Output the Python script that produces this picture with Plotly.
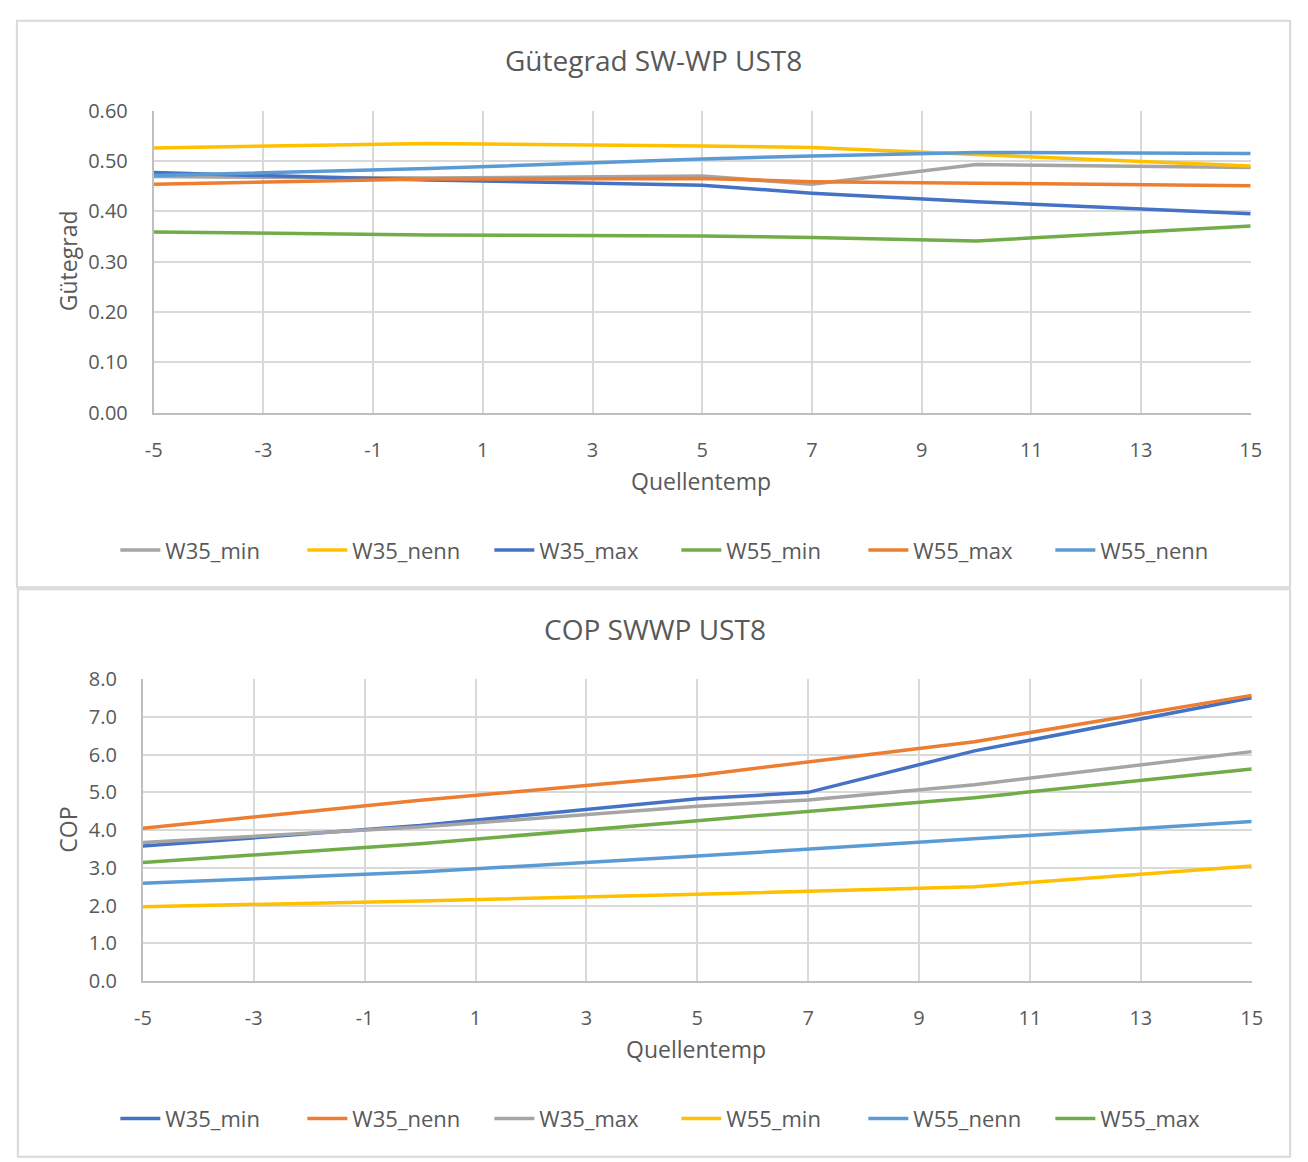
import plotly.graph_objects as go

W, H = 1308, 1162

# Source temperature (°C) at which the heat pump was measured
quellentemp = [-5, 0, 5, 7, 10, 15]

# Gütegrad (efficiency grade) per operating point
g_w35_min = [0.469, 0.466, 0.470, 0.454, 0.493, 0.487]
g_w35_nenn = [0.526, 0.535, 0.530, 0.527, 0.513, 0.490]
g_w35_max = [0.477, 0.462, 0.452, 0.436, 0.419, 0.395]
g_w55_min = [0.359, 0.353, 0.351, 0.348, 0.341, 0.371]
g_w55_max = [0.454, 0.464, 0.465, 0.459, 0.456, 0.451]
g_w55_nenn = [0.471, 0.485, 0.504, 0.510, 0.517, 0.515]

# COP per operating point
c_w35_min = [3.58, 4.12, 4.83, 5.00, 6.10, 7.51]
c_w35_nenn = [4.05, 4.79, 5.45, 5.80, 6.34, 7.57]
c_w35_max = [3.67, 4.08, 4.63, 4.80, 5.20, 6.08]
c_w55_min = [1.97, 2.12, 2.30, 2.38, 2.50, 3.05]
c_w55_nenn = [2.59, 2.89, 3.31, 3.49, 3.78, 4.23]
c_w55_max = [3.14, 3.64, 4.25, 4.50, 4.86, 5.62]

# x-axis ticks and their labels (plain hyphen for negatives)
x_ticks = [-5, -3, -1, 1, 3, 5, 7, 9, 11, 13, 15]
x_tick_labels = ["-5", "-3", "-1", "1", "3", "5", "7", "9", "11", "13", "15"]

BLUE = "#4472C4"
ORANGE = "#ED7D31"
GRAY = "#A5A5A5"
YELLOW = "#FFC000"
LBLUE = "#5B9BD5"
GREEN = "#70AD47"

TEXT = "#595959"
GRID = "#D9D9D9"
AXIS = "#BFBFBF"
FONT = "Open Sans"


def px(x):
    """pixel x -> paper fraction"""
    return x / W


def py(y):
    """pixel y (from top) -> paper fraction"""
    return 1 - y / H


top_series = [
    ("W35_min", g_w35_min, GRAY),
    ("W35_nenn", g_w35_nenn, YELLOW),
    ("W35_max", g_w35_max, BLUE),
    ("W55_min", g_w55_min, GREEN),
    ("W55_max", g_w55_max, ORANGE),
    ("W55_nenn", g_w55_nenn, LBLUE),
]
bottom_series = [
    ("W35_min", c_w35_min, BLUE),
    ("W35_nenn", c_w35_nenn, ORANGE),
    ("W35_max", c_w35_max, GRAY),
    ("W55_min", c_w55_min, YELLOW),
    ("W55_nenn", c_w55_nenn, LBLUE),
    ("W55_max", c_w55_max, GREEN),
]

fig = go.Figure()
for name, vals, col in top_series:
    fig.add_trace(go.Scatter(x=quellentemp, y=vals, name=name, mode="lines",
                             line=dict(color=col, width=3.5),
                             xaxis="x", yaxis="y", legend="legend"))
for name, vals, col in bottom_series:
    fig.add_trace(go.Scatter(x=quellentemp, y=vals, name=name, mode="lines",
                             line=dict(color=col, width=3.5),
                             xaxis="x2", yaxis="y2", legend="legend2"))

axis_common = dict(
    showgrid=True, gridcolor=GRID, gridwidth=1.5,
    showline=True, linecolor=AXIS, linewidth=2,
    zeroline=False, ticks="",
    tickfont=dict(family=FONT, size=20, color=TEXT),
)
legend_common = dict(
    orientation="h", x=px(108), xanchor="left", yanchor="middle",
    font=dict(family=FONT, size=22, color=TEXT),
    entrywidth=132, entrywidthmode="pixels", itemwidth=40,
    tracegroupgap=0, bgcolor="rgba(0,0,0,0)",
)

fig.update_layout(
    width=W, height=H,
    margin=dict(l=0, r=0, t=0, b=0),
    paper_bgcolor="white", plot_bgcolor="white",
    font=dict(family=FONT, color=TEXT),
    xaxis=dict(domain=[px(147), px(1261)], anchor="y", range=[-5, 15],
               tickmode="array", tickvals=x_ticks, ticktext=x_tick_labels,
               ticklabelstandoff=18, **axis_common),
    yaxis=dict(domain=[py(408), py(99)], anchor="x", range=[0, 0.6],
               tickmode="linear", tick0=0, dtick=0.1, tickformat=".2f",
               ticklabelstandoff=20, **axis_common),
    xaxis2=dict(domain=[px(136), px(1262)], anchor="y2", range=[-5, 15],
                tickmode="array", tickvals=x_ticks, ticktext=x_tick_labels,
                ticklabelstandoff=18, **axis_common),
    yaxis2=dict(domain=[py(990), py(681)], anchor="x2", range=[0, 8],
                tickmode="linear", tick0=0, dtick=1, tickformat=".1f",
                ticklabelstandoff=20, **axis_common),
    legend=dict(y=py(549), **legend_common),
    legend2=dict(y=py(1131), **legend_common),
    showlegend=True,
)

annotations = [
    dict(text="Gütegrad SW-WP UST8", x=px(655), y=py(47), size=28),
    dict(text="COP SWWP UST8", x=px(656), y=py(630), size=28),
    dict(text="Quellentemp", x=px(703), y=py(478), size=23),
    dict(text="Quellentemp", x=px(698), y=py(1060), size=23),
]
for a in annotations:
    fig.add_annotation(text=a["text"], x=a["x"], y=a["y"], xref="paper", yref="paper",
                       xanchor="center", yanchor="middle", showarrow=False,
                       font=dict(family=FONT, size=a["size"], color=TEXT))
for text, y in [("Gütegrad", 253), ("COP", 835)]:
    fig.add_annotation(text=text, x=px(60), y=py(y), xref="paper", yref="paper",
                       xanchor="center", yanchor="middle", showarrow=False, textangle=-90,
                       font=dict(family=FONT, size=23, color=TEXT))

# chart frames
fig.add_shape(type="rect", xref="paper", yref="paper",
              x0=px(8), x1=px(1301), y0=py(587), y1=py(7),
              line=dict(color=GRID, width=2), fillcolor="rgba(0,0,0,0)", layer="below")
fig.add_shape(type="rect", xref="paper", yref="paper",
              x0=px(9), x1=px(1301), y0=py(1170), y1=py(589),
              line=dict(color=GRID, width=2), fillcolor="rgba(0,0,0,0)", layer="below")

fig.write_html("out.html")
